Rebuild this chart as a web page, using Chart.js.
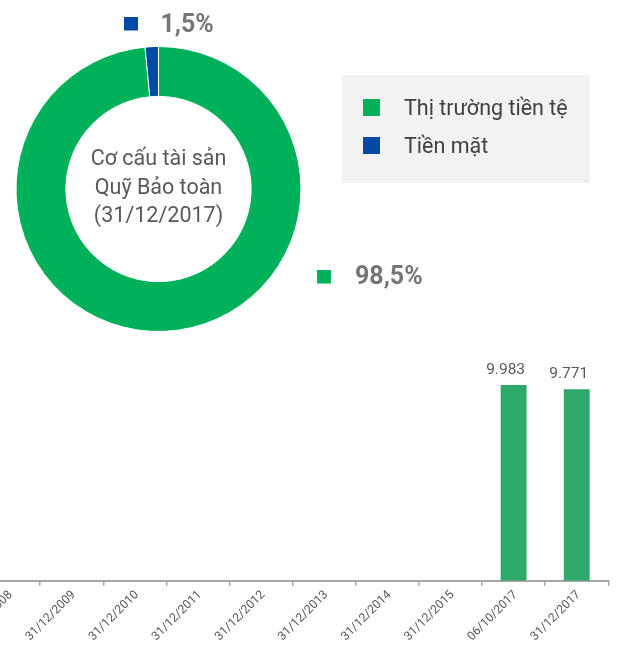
<!DOCTYPE html>
<html>
<head>
<meta charset="utf-8">
<title>Quỹ Bảo toàn</title>
<script src="https://cdn.jsdelivr.net/npm/chart.js@4.4.1/dist/chart.umd.min.js"></script>
<style>
  html, body { margin: 0; padding: 0; background: #ffffff; overflow: hidden; }
  #wrap { position: relative; width: 620px; height: 650px; overflow: hidden; background: #ffffff; }
  #pie { position: absolute; left: 0; top: 0; }
  #bars { position: absolute; left: -60px; top: 330px; }
</style>
</head>
<body>
<div id="wrap">
  <canvas id="bars" width="680" height="320"></canvas>
  <canvas id="pie" width="620" height="340"></canvas>
</div>
<script>
// Asset structure of the fund at 31/12/2017 (percent)
const doughnutLabels = ['Thị trường tiền tệ', 'Tiền mặt'];
const doughnutShares = [98.5, 1.5];
const doughnutColors = ['#00B15A', '#0049A5'];
const centerTitle = ['Cơ cấu tài sản', 'Quỹ Bảo toàn', '(31/12/2017)'];

// Fund size by reporting date
const barCategories = ['31/12/2008', '31/12/2009', '31/12/2010', '31/12/2011', '31/12/2012',
                       '31/12/2013', '31/12/2014', '31/12/2015', '06/10/2017', '31/12/2017'];
const barValues = [null, null, null, null, null, null, null, null, 9983, 9771];
const barColor = '#2EA96A';

const FONT = 'Roboto, "Noto Sans", sans-serif';

function fmtPercent(v) { return String(v).replace('.', ',') + '%'; }
function fmtThousands(v) { return String(v).replace(/\B(?=(\d{3})+(?!\d))/g, '.'); }

// Text around the ring: centre title, share labels and the legend panel
const ringDecor = {
  id: 'ringDecor',
  afterDraw(chart) {
    const ctx = chart.ctx;
    const arc = chart.getDatasetMeta(0).data[0];
    const cx = arc.x, cy = arc.y;
    ctx.save();

    // centre title
    ctx.fillStyle = '#595959';
    ctx.font = '21.5px ' + FONT;
    ctx.textAlign = 'center';
    ctx.textBaseline = 'alphabetic';
    centerTitle.forEach((line, i) => ctx.fillText(line, cx, cy - 24 + i * 28.5));

    // share labels with colour markers
    const spots = [
      { sq: [317, 270], tx: 355, ty: 283.5 },
      { sq: [124, 17], tx: 160.5, ty: 31.5 }
    ];
    ctx.textAlign = 'left';
    ctx.font = 'bold 25px ' + FONT;
    doughnutShares.forEach((v, i) => {
      const s = spots[i];
      ctx.fillStyle = doughnutColors[i];
      ctx.fillRect(s.sq[0], s.sq[1], 14, 13.5);
      ctx.fillStyle = '#757575';
      ctx.fillText(fmtPercent(v), s.tx, s.ty);
    });

    // legend panel
    ctx.fillStyle = '#F2F2F2';
    ctx.fillRect(342, 75, 248, 108);
    ctx.font = '21.5px ' + FONT;
    doughnutLabels.forEach((lab, i) => {
      const y = 99 + i * 38;
      ctx.fillStyle = doughnutColors[i];
      ctx.fillRect(363, y, 17, 17);
      ctx.fillStyle = '#404040';
      ctx.fillText(lab, 404, y + 16);
    });
    ctx.restore();
  }
};

// Value labels above the bars
const barValueLabels = {
  id: 'barValueLabels',
  afterDatasetsDraw(chart) {
    const ctx = chart.ctx;
    const meta = chart.getDatasetMeta(0);
    ctx.save();
    ctx.font = '15.5px ' + FONT;
    ctx.fillStyle = '#595959';
    ctx.textAlign = 'center';
    ctx.textBaseline = 'alphabetic';
    meta.data.forEach((bar, i) => {
      const v = barValues[i];
      if (v === null || v === undefined) return;
      ctx.fillText(fmtThousands(v), bar.x - 8, bar.y - 11.5);
    });
    ctx.restore();
  }
};

function draw() {
  new Chart(document.getElementById('pie'), {
    type: 'doughnut',
    data: {
      labels: doughnutLabels,
      datasets: [{
        data: doughnutShares,
        backgroundColor: doughnutColors,
        borderColor: '#ffffff',
        borderWidth: 1
      }]
    },
    options: {
      responsive: false,
      devicePixelRatio: 1,
      animation: false,
      cutout: '65%',
      layout: { padding: { left: 15.5, top: 46, right: 318.5, bottom: 8 } },
      plugins: { legend: { display: false }, tooltip: { enabled: false } }
    },
    plugins: [ringDecor]
  });

  new Chart(document.getElementById('bars'), {
    type: 'bar',
    data: {
      labels: barCategories,
      datasets: [{
        data: barValues,
        backgroundColor: barColor,
        borderWidth: 0,
        barPercentage: 0.41,
        categoryPercentage: 1
      }]
    },
    options: {
      responsive: false,
      devicePixelRatio: 1,
      animation: false,
      layout: { padding: { left: 37, top: 15.5, right: 11.7, bottom: 0 } },
      plugins: { legend: { display: false }, tooltip: { enabled: false } },
      scales: {
        y: { display: false, min: 0, max: 12000 },
        x: {
          afterFit(scale) { scale.height = 69.3; },
          border: { display: true, color: '#A6A6A6', width: 2 },
          grid: { display: true, drawOnChartArea: false, drawTicks: true, tickLength: 5,
                  color: '#A6A6A6', lineWidth: 1.5, offset: true },
          ticks: {
            autoSkip: false,
            minRotation: 45,
            maxRotation: 45,
            padding: 2,
            labelOffset: 2,
            color: '#595959',
            font: { family: FONT, size: 12.2 }
          }
        }
      }
    },
    plugins: [barValueLabels]
  });
}

if (document.fonts && document.fonts.load) {
  Promise.all([
    document.fonts.load('21.5px Roboto'),
    document.fonts.load('bold 25px Roboto')
  ]).then(draw, draw);
} else {
  draw();
}
</script>
</body>
</html>
